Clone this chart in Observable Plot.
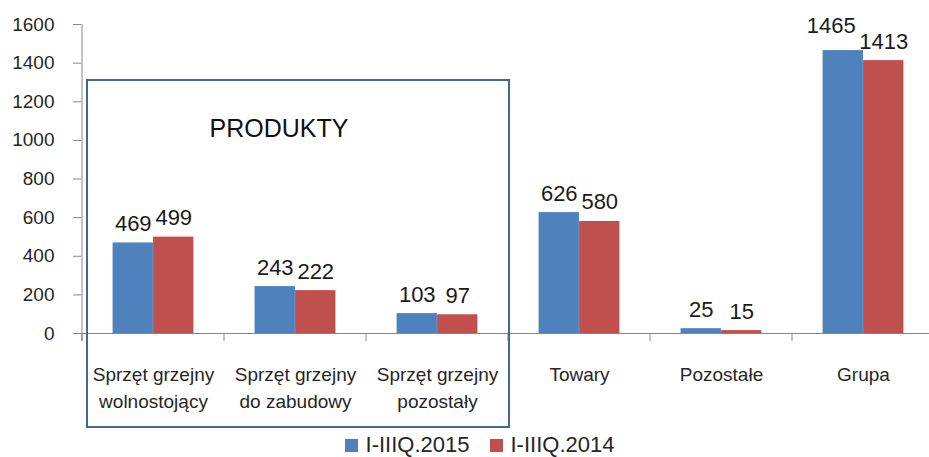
<!DOCTYPE html>
<html>
<head>
<meta charset="utf-8">
<script src="https://cdn.jsdelivr.net/npm/d3@7"></script>
<script src="https://cdn.jsdelivr.net/npm/@observablehq/plot@0.6"></script>
<style>
  body { margin: 0; background: #fff; font-family: "Liberation Sans", Arial, sans-serif; }
  #legend { height: 25px; display: flex; justify-content: center; align-items: flex-start; font-size: 22px; color: #262626; line-height: 22px; padding-left: 30px; }
  #legend .item { display: flex; align-items: center; margin: 0 10px; padding-top: 2px; }
  #legend .sw { width: 13px; height: 13px; margin-right: 8px; }
</style>
</head>
<body>
<div id="chart"></div>
<div id="legend"></div>
<script>
const categories = [
  "Sprzęt grzejny\nwolnostojący",
  "Sprzęt grzejny\ndo zabudowy",
  "Sprzęt grzejny\npozostały",
  "Towary",
  "Pozostałe",
  "Grupa"
];
const series = ["I-IIIQ.2015", "I-IIIQ.2014"];
const values2015 = [469, 243, 103, 626, 25, 1465];
const values2014 = [499, 222, 97, 580, 15, 1413];
const yTicks = [0, 200, 400, 600, 800, 1000, 1200, 1400, 1600];
const annotationLabel = "PRODUKTY";
const annotationCategories = [categories[0], categories[2]];
const annotationTop = 1310;
const colors = ["#4F81BD", "#C0504D"];

const data2015 = categories.map((c, i) => ({cat: c, series: series[0], value: values2015[i]}));
const data2014 = categories.map((c, i) => ({cat: c, series: series[1], value: values2014[i]}));

const bw = (934 - 81) / categories.length;
const barW = 40.5;
const gap = (bw - 2 * barW) / 2;
const wide = d => String(d.value).length >= 4;

const labelStyle = {x: "cat", y: "value", text: d => String(d.value), dy: -12, lineAnchor: "bottom", fontSize: 22, fill: "#1a1a1a"};

const chart = Plot.plot({
  width: 929,
  height: 432,
  marginTop: 24,
  marginBottom: 99,
  marginLeft: 81,
  marginRight: 0,
  style: {fontFamily: "Liberation Sans, Arial, sans-serif", background: "white", overflow: "visible"},
  x: {domain: categories, range: [81, 934], padding: 0, label: null},
  y: {domain: [0, 1600], label: null},
  marks: [
    Plot.barY(data2015, {x: "cat", y: "value", fill: colors[0], insetLeft: gap, insetRight: gap + barW}),
    Plot.barY(data2014, {x: "cat", y: "value", fill: colors[1], insetLeft: gap + barW, insetRight: gap}),
    Plot.ruleY([0], {stroke: "#868686"}),
    Plot.text(data2015.filter(d => !wide(d)), {...labelStyle, dx: -barW / 2}),
    Plot.text(data2015.filter(wide), {...labelStyle, dx: -barW / 2 - 12, dy: -18}),
    Plot.text(data2014, {...labelStyle, dx: barW / 2}),
    Plot.axisY({ticks: yTicks, tickFormat: d => String(d), tickSize: 8, tickPadding: 19, fontSize: 19, stroke: "#868686", fill: "#262626", label: null}),
    Plot.axisX({tickSize: 0, tickPadding: 28.5, fontSize: 19, lineHeight: 27 / 19, fill: "#262626", label: null})
  ]
});

document.getElementById("chart").appendChild(chart);

// Decorations derived from Plot's scales
const xs = chart.scale("x"), ys = chart.scale("y");
const svg = d3.select(chart);
const band = xs.bandwidth;
const y0 = ys.apply(0);
const g = svg.append("g");
g.append("line")
  .attr("x1", xs.apply(categories[0])).attr("x2", xs.apply(categories[0]))
  .attr("y1", ys.apply(yTicks[yTicks.length - 1])).attr("y2", y0 + 8)
  .attr("stroke", "#868686");
const bounds = categories.map(c => xs.apply(c)).concat([xs.apply(categories[categories.length - 1]) + band]);
bounds.forEach(b => {
  g.append("line").attr("x1", b).attr("x2", b).attr("y1", y0).attr("y2", y0 + 8).attr("stroke", "#868686");
});
const bx1 = xs.apply(annotationCategories[0]) + 5;
const bx2 = xs.apply(annotationCategories[1]) + band + 1;
const by1 = ys.apply(annotationTop);
const by2 = y0 + 94;
g.append("rect")
  .attr("x", bx1).attr("y", by1).attr("width", bx2 - bx1).attr("height", by2 - by1)
  .attr("fill", "none").attr("stroke", "#41679A").attr("stroke-width", 2);
g.append("text")
  .attr("x", (bx1 + bx2) / 2 - 19).attr("y", by1 + 57)
  .attr("text-anchor", "middle").attr("font-size", 25).attr("fill", "#111")
  .text(annotationLabel);

const legend = d3.select("#legend");
series.forEach((s, i) => {
  const it = legend.append("div").attr("class", "item");
  it.append("div").attr("class", "sw").style("background", colors[i]);
  it.append("span").text(s);
});
</script>
</body>
</html>
